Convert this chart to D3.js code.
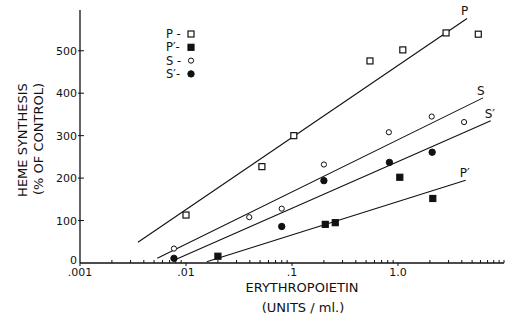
<!DOCTYPE html>
<html>
<head>
<meta charset="utf-8">
<script src="https://cdn.jsdelivr.net/npm/d3@7"></script>
<style>
  body { margin: 0; background: #fff; }
  text { font-family: "DejaVu Sans", sans-serif; fill: #111; }
</style>
</head>
<body>
<div id="chart"></div>
<script>
// points: erythropoietin (units/ml) vs heme synthesis (% of control)
let p_dose = [0.01, 0.052, 0.104, 0.544, 1.11, 2.84, 5.72];
let p_heme = [113, 227, 300, 476, 502, 542, 539];
let p2_dose = [0.020, 0.206, 0.256, 1.04, 2.13];
let p2_heme = [16, 91, 95, 202, 152];
let s_dose = [0.0077, 0.0395, 0.080, 0.20, 0.82, 2.08, 4.2];
let s_heme = [34, 108, 128, 232, 308, 345, 332];
let s2_dose = [0.0077, 0.080, 0.20, 0.83, 2.1];
let s2_heme = [11, 86, 194, 237, 261];

// fitted lines, [start, end] of each
let line_names = ["P", "S", "S′", "P′"];
let line_dose = [[0.00352, 4.48], [0.00536, 6.34], [0.0076, 7.5], [0.0157, 4.35]];
let line_heme = [[49, 576], [11, 389], [6, 335], [3, 195]];

let x_tick_values = [0.001, 0.01, 0.1, 1];
let x_tick_labels = [".001", ".01", ".1", "1.0"];
let y_tick_values = [0, 100, 200, 300, 400, 500];
let legend_labels = ["P -", "P′-", "S -", "S′-"];
let legend_marks = ["open_square", "filled_square", "open_circle", "filled_circle"];

let graph_config = { width: 507, height: 322 };
let { width, height } = graph_config;

let svg = d3.select("#chart").append("svg")
  .attr("width", width)
  .attr("height", height);

let x_scale = d3.scaleLog().domain([0.001, 10]).range([80, 504]);
let y_scale = d3.scaleLinear().domain([0, 596]).range([263, 10]);

// axes drawn by hand-ish to get the inward minor ticks of the original
let x_axis = svg.append("g").attr("transform", "translate(0," + y_scale(0) + ")");
x_axis.append("line")
  .attr("x1", x_scale.range()[0]).attr("x2", x_scale.range()[1])
  .attr("stroke", "#111").attr("stroke-width", 1.3);
x_axis.selectAll(".minor")
  .data(x_scale.ticks())
  .enter()
  .append("line")
  .attr("class", "minor")
  .attr("x1", d => x_scale(d)).attr("x2", d => x_scale(d))
  .attr("y1", 0)
  .attr("y2", d => (x_tick_values.includes(d) ? 3 : -3))
  .attr("stroke", "#111").attr("stroke-width", 1);
x_axis.selectAll(".xlab")
  .data(x_tick_values)
  .enter()
  .append("text")
  .attr("class", "xlab")
  .attr("x", d => x_scale(d))
  .attr("y", 13)
  .attr("text-anchor", "middle")
  .attr("font-size", 11)
  .text((d, i) => x_tick_labels[i]);

let y_axis = svg.append("g").attr("transform", "translate(" + x_scale(0.001) + ",0)");
y_axis.append("line")
  .attr("y1", y_scale.range()[0]).attr("y2", y_scale.range()[1])
  .attr("stroke", "#111").attr("stroke-width", 1.3);
y_axis.selectAll(".ytick")
  .data(y_tick_values.slice(1))
  .enter()
  .append("line")
  .attr("class", "ytick")
  .attr("x1", -2).attr("x2", 4)
  .attr("y1", d => y_scale(d)).attr("y2", d => y_scale(d))
  .attr("stroke", "#111").attr("stroke-width", 1);
y_axis.selectAll(".ylab")
  .data(y_tick_values)
  .enter()
  .append("text")
  .attr("class", "ylab")
  .attr("x", -3)
  .attr("y", d => y_scale(d) + (d === 0 ? 1 : 4))
  .attr("text-anchor", "end")
  .attr("font-size", 11)
  .text(d => d);

// axis titles
svg.append("text")
  .attr("transform", "translate(27,140) rotate(-90)")
  .attr("text-anchor", "middle")
  .attr("font-size", 13)
  .text("HEME SYNTHESIS");
svg.append("text")
  .attr("transform", "translate(43,139) rotate(-90)")
  .attr("text-anchor", "middle")
  .attr("font-size", 13)
  .text("(% OF CONTROL)");
svg.append("text")
  .attr("x", 302).attr("y", 292)
  .attr("text-anchor", "middle")
  .attr("font-size", 13)
  .text("ERYTHROPOIETIN");
svg.append("text")
  .attr("x", 303).attr("y", 312)
  .attr("text-anchor", "middle")
  .attr("font-size", 13)
  .text("(UNITS / ml.)");

// regression lines
let lines = svg.selectAll(".fit")
  .data(line_names)
  .enter()
  .append("g")
  .attr("class", "fit");
lines.append("line")
  .attr("x1", (d, i) => x_scale(line_dose[i][0]))
  .attr("x2", (d, i) => x_scale(line_dose[i][1]))
  .attr("y1", (d, i) => y_scale(line_heme[i][0]))
  .attr("y2", (d, i) => y_scale(line_heme[i][1]))
  .attr("stroke", "#111").attr("stroke-width", 1.1);
lines.append("text")
  .attr("x", (d, i) => x_scale(line_dose[i][1]) - 6)
  .attr("y", (d, i) => y_scale(line_heme[i][1]) - 3)
  .attr("font-size", 12)
  .text(d => d);

function draw_mark(sel, kind) {
  if (kind.endsWith("square")) {
    sel.append("rect")
      .attr("x", -3).attr("y", -3)
      .attr("width", 6).attr("height", 6)
      .attr("fill", kind.startsWith("open") ? "#fff" : "#111")
      .attr("stroke", "#111").attr("stroke-width", 1.2);
  } else {
    let open = kind.startsWith("open");
    sel.append("circle")
      .attr("r", open ? 2.6 : 3.2)
      .attr("fill", open ? "#fff" : "#111")
      .attr("stroke", "#111").attr("stroke-width", 1);
  }
}

let series = [
  { dose: p_dose, heme: p_heme, kind: "open_square" },
  { dose: p2_dose, heme: p2_heme, kind: "filled_square" },
  { dose: s_dose, heme: s_heme, kind: "open_circle" },
  { dose: s2_dose, heme: s2_heme, kind: "filled_circle" }
];
series.forEach(s => {
  svg.selectAll(null)
    .data(s.dose)
    .enter()
    .append("g")
    .attr("transform", (d, i) => "translate(" + x_scale(d) + "," + y_scale(s.heme[i]) + ")")
    .each(function () { draw_mark(d3.select(this), s.kind); });
});

// legend
let legend = svg.append("g").attr("transform", "translate(166,34)");
legend_labels.forEach((label, i) => {
  let row = legend.append("g").attr("transform", "translate(0," + i * 13.3 + ")");
  row.append("text")
    .attr("y", 4)
    .attr("font-size", 11.5)
    .text(label);
  let mark = row.append("g").attr("transform", "translate(25,0)");
  draw_mark(mark, legend_marks[i]);
});
</script>
</body>
</html>
